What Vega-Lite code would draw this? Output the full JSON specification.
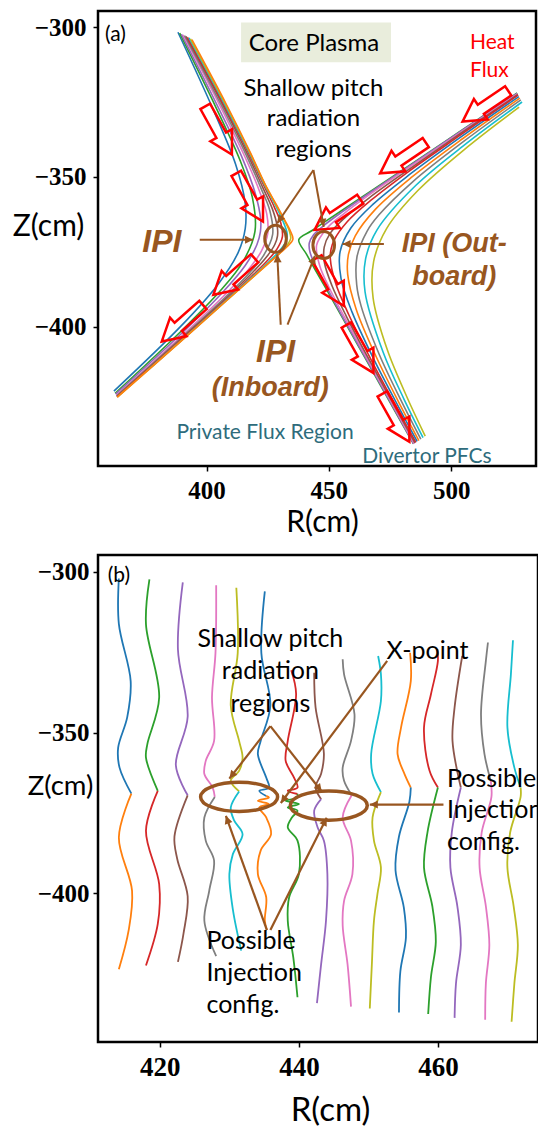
{
  "$schema": "https://vega.github.io/schema/vega-lite/v6.json",
  "background": "white",
  "padding": {"left": 10, "top": 9, "right": 0, "bottom": 0},
  "spacing": 89,
  "bounds": "flush",
  "config": {
    "view": {"stroke": "black", "strokeWidth": 2.5},
    "axis": {
      "domain": false, "grid": false, "ticks": true, "tickColor": "black", "tickWidth": 1.5, "tickSize": 5,
      "labelFont": "Liberation Serif", "labelFontWeight": "bold", "labelColor": "black",
      "labelFlush": false, "labelOverlap": false,
      "titleFont": "Lato", "titleFontWeight": "normal", "titleColor": "black"
    }
  },
  "datasets": {
    "a_box": [{"R": 414.1, "R2": 475.4, "Z": -298.4, "Z2": -311.7}],
    "a_lines": [
      {"id": "L1", "c": "C0", "R": 388.3, "Z": -301.7}, {"id": "L1", "c": "C0", "R": 402.9, "Z": -327.9}, {"id": "L1", "c": "C0", "R": 411.9, "Z": -345.9}, {"id": "L1", "c": "C0", "R": 415.8, "Z": -358.9}, {"id": "L1", "c": "C0", "R": 415.8, "Z": -367.3}, {"id": "L1", "c": "C0", "R": 412.9, "Z": -375.3}, {"id": "L1", "c": "C0", "R": 404.5, "Z": -386.1}, {"id": "L1", "c": "C0", "R": 389.6, "Z": -399.8}, {"id": "L1", "c": "C0", "R": 362.1, "Z": -421.6},
      {"id": "L2", "c": "C2", "R": 389.0, "Z": -302.0}, {"id": "L2", "c": "C2", "R": 404.0, "Z": -327.1}, {"id": "L2", "c": "C2", "R": 413.7, "Z": -344.5}, {"id": "L2", "c": "C2", "R": 418.7, "Z": -356.8}, {"id": "L2", "c": "C2", "R": 419.8, "Z": -368.1}, {"id": "L2", "c": "C2", "R": 414.9, "Z": -378.3}, {"id": "L2", "c": "C2", "R": 405.7, "Z": -388.0}, {"id": "L2", "c": "C2", "R": 390.4, "Z": -400.9}, {"id": "L2", "c": "C2", "R": 362.6, "Z": -422.3},
      {"id": "L3", "c": "C4", "R": 389.7, "Z": -302.3}, {"id": "L3", "c": "C4", "R": 404.7, "Z": -326.7}, {"id": "L3", "c": "C4", "R": 414.7, "Z": -343.9}, {"id": "L3", "c": "C4", "R": 420.0, "Z": -355.8}, {"id": "L3", "c": "C4", "R": 422.1, "Z": -364.1}, {"id": "L3", "c": "C4", "R": 422.0, "Z": -368.4}, {"id": "L3", "c": "C4", "R": 420.6, "Z": -372.6}, {"id": "L3", "c": "C4", "R": 415.8, "Z": -379.6}, {"id": "L3", "c": "C4", "R": 406.3, "Z": -388.8}, {"id": "L3", "c": "C4", "R": 390.8, "Z": -401.5}, {"id": "L3", "c": "C4", "R": 362.8, "Z": -422.6},
      {"id": "L4", "c": "C6", "R": 390.4, "Z": -302.6}, {"id": "L4", "c": "C6", "R": 405.5, "Z": -326.3}, {"id": "L4", "c": "C6", "R": 415.6, "Z": -343.2}, {"id": "L4", "c": "C6", "R": 421.6, "Z": -354.7}, {"id": "L4", "c": "C6", "R": 424.6, "Z": -362.4}, {"id": "L4", "c": "C6", "R": 425.0, "Z": -369.0}, {"id": "L4", "c": "C6", "R": 422.3, "Z": -375.0}, {"id": "L4", "c": "C6", "R": 416.9, "Z": -381.2}, {"id": "L4", "c": "C6", "R": 407.0, "Z": -389.8}, {"id": "L4", "c": "C6", "R": 391.2, "Z": -402.1}, {"id": "L4", "c": "C6", "R": 363.1, "Z": -423.0},
      {"id": "L5", "c": "C7", "R": 391.0, "Z": -302.8}, {"id": "L5", "c": "C7", "R": 406.0, "Z": -326.0}, {"id": "L5", "c": "C7", "R": 416.3, "Z": -342.9}, {"id": "L5", "c": "C7", "R": 422.4, "Z": -354.1}, {"id": "L5", "c": "C7", "R": 425.9, "Z": -361.4}, {"id": "L5", "c": "C7", "R": 427.0, "Z": -369.3}, {"id": "L5", "c": "C7", "R": 423.2, "Z": -376.4}, {"id": "L5", "c": "C7", "R": 417.5, "Z": -382.1}, {"id": "L5", "c": "C7", "R": 407.4, "Z": -390.4}, {"id": "L5", "c": "C7", "R": 391.4, "Z": -402.5}, {"id": "L5", "c": "C7", "R": 363.2, "Z": -423.2},
      {"id": "L6", "c": "C5", "R": 391.6, "Z": -303.1}, {"id": "L6", "c": "C5", "R": 406.5, "Z": -325.8}, {"id": "L6", "c": "C5", "R": 416.8, "Z": -342.6}, {"id": "L6", "c": "C5", "R": 423.0, "Z": -353.6}, {"id": "L6", "c": "C5", "R": 426.9, "Z": -360.7}, {"id": "L6", "c": "C5", "R": 428.9, "Z": -366.6}, {"id": "L6", "c": "C5", "R": 429.0, "Z": -369.7}, {"id": "L6", "c": "C5", "R": 427.9, "Z": -372.6}, {"id": "L6", "c": "C5", "R": 423.9, "Z": -377.4}, {"id": "L6", "c": "C5", "R": 417.9, "Z": -382.7}, {"id": "L6", "c": "C5", "R": 407.6, "Z": -390.8}, {"id": "L6", "c": "C5", "R": 391.6, "Z": -402.7}, {"id": "L6", "c": "C5", "R": 363.3, "Z": -423.4},
      {"id": "L7", "c": "C3", "R": 392.2, "Z": -303.4}, {"id": "L7", "c": "C3", "R": 406.9, "Z": -325.7}, {"id": "L7", "c": "C3", "R": 417.3, "Z": -342.3}, {"id": "L7", "c": "C3", "R": 423.6, "Z": -353.2}, {"id": "L7", "c": "C3", "R": 427.7, "Z": -360.1}, {"id": "L7", "c": "C3", "R": 430.4, "Z": -365.6}, {"id": "L7", "c": "C3", "R": 431.0, "Z": -370.0}, {"id": "L7", "c": "C3", "R": 428.9, "Z": -374.0}, {"id": "L7", "c": "C3", "R": 424.5, "Z": -378.3}, {"id": "L7", "c": "C3", "R": 418.3, "Z": -383.3}, {"id": "L7", "c": "C3", "R": 407.9, "Z": -391.1}, {"id": "L7", "c": "C3", "R": 391.7, "Z": -402.9}, {"id": "L7", "c": "C3", "R": 363.4, "Z": -423.5},
      {"id": "L8", "c": "C9", "R": 392.8, "Z": -303.6}, {"id": "L8", "c": "C9", "R": 407.3, "Z": -325.6}, {"id": "L8", "c": "C9", "R": 417.6, "Z": -342.2}, {"id": "L8", "c": "C9", "R": 423.9, "Z": -353.0}, {"id": "L8", "c": "C9", "R": 428.3, "Z": -359.7}, {"id": "L8", "c": "C9", "R": 431.3, "Z": -364.9}, {"id": "L8", "c": "C9", "R": 432.9, "Z": -368.7}, {"id": "L8", "c": "C9", "R": 432.9, "Z": -370.4}, {"id": "L8", "c": "C9", "R": 432.3, "Z": -371.9}, {"id": "L8", "c": "C9", "R": 429.5, "Z": -375.0}, {"id": "L8", "c": "C9", "R": 424.9, "Z": -378.8}, {"id": "L8", "c": "C9", "R": 418.5, "Z": -383.6}, {"id": "L8", "c": "C9", "R": 408.0, "Z": -391.3}, {"id": "L8", "c": "C9", "R": 391.8, "Z": -403.1}, {"id": "L8", "c": "C9", "R": 375.6, "Z": -414.8},
      {"id": "L9", "c": "C8", "R": 393.4, "Z": -303.9}, {"id": "L9", "c": "C8", "R": 407.6, "Z": -325.5}, {"id": "L9", "c": "C8", "R": 417.8, "Z": -342.1}, {"id": "L9", "c": "C8", "R": 424.1, "Z": -352.9}, {"id": "L9", "c": "C8", "R": 428.5, "Z": -359.5}, {"id": "L9", "c": "C8", "R": 431.8, "Z": -364.5}, {"id": "L9", "c": "C8", "R": 433.8, "Z": -368.0}, {"id": "L9", "c": "C8", "R": 434.4, "Z": -370.6}, {"id": "L9", "c": "C8", "R": 432.9, "Z": -372.9}, {"id": "L9", "c": "C8", "R": 429.9, "Z": -375.5}, {"id": "L9", "c": "C8", "R": 425.1, "Z": -379.0}, {"id": "L9", "c": "C8", "R": 418.6, "Z": -383.8}, {"id": "L9", "c": "C8", "R": 408.1, "Z": -391.4}, {"id": "L9", "c": "C8", "R": 391.9, "Z": -403.1}, {"id": "L9", "c": "C8", "R": 363.5, "Z": -423.6},
      {"id": "L10", "c": "C1", "R": 394.0, "Z": -304.2}, {"id": "L10", "c": "C1", "R": 407.9, "Z": -325.5}, {"id": "L10", "c": "C1", "R": 418.0, "Z": -342.1}, {"id": "L10", "c": "C1", "R": 424.1, "Z": -352.8}, {"id": "L10", "c": "C1", "R": 428.6, "Z": -359.4}, {"id": "L10", "c": "C1", "R": 431.9, "Z": -364.4}, {"id": "L10", "c": "C1", "R": 434.1, "Z": -367.8}, {"id": "L10", "c": "C1", "R": 435.3, "Z": -370.8}, {"id": "L10", "c": "C1", "R": 433.1, "Z": -373.2}, {"id": "L10", "c": "C1", "R": 429.9, "Z": -375.6}, {"id": "L10", "c": "C1", "R": 425.1, "Z": -379.1}, {"id": "L10", "c": "C1", "R": 418.6, "Z": -383.8}, {"id": "L10", "c": "C1", "R": 408.1, "Z": -391.4}, {"id": "L10", "c": "C1", "R": 391.9, "Z": -403.2}, {"id": "L10", "c": "C1", "R": 363.5, "Z": -423.6},
      {"id": "R1", "c": "C2", "R": 527.0, "Z": -322.0}, {"id": "R1", "c": "C2", "R": 503.3, "Z": -335.0}, {"id": "R1", "c": "C2", "R": 481.4, "Z": -347.0}, {"id": "R1", "c": "C2", "R": 465.6, "Z": -355.6}, {"id": "R1", "c": "C2", "R": 455.0, "Z": -361.4}, {"id": "R1", "c": "C2", "R": 448.0, "Z": -365.2}, {"id": "R1", "c": "C2", "R": 442.8, "Z": -368.1}, {"id": "R1", "c": "C2", "R": 437.7, "Z": -371.0}, {"id": "R1", "c": "C2", "R": 440.9, "Z": -375.9}, {"id": "R1", "c": "C2", "R": 444.3, "Z": -380.9}, {"id": "R1", "c": "C2", "R": 448.9, "Z": -387.4}, {"id": "R1", "c": "C2", "R": 455.7, "Z": -397.3}, {"id": "R1", "c": "C2", "R": 465.9, "Z": -412.1}, {"id": "R1", "c": "C2", "R": 476.1, "Z": -426.9}, {"id": "R1", "c": "C2", "R": 484.6, "Z": -439.2},
      {"id": "R2", "c": "C4", "R": 527.0, "Z": -322.1}, {"id": "R2", "c": "C4", "R": 503.4, "Z": -335.1}, {"id": "R2", "c": "C4", "R": 481.5, "Z": -347.2}, {"id": "R2", "c": "C4", "R": 465.7, "Z": -355.9}, {"id": "R2", "c": "C4", "R": 455.3, "Z": -361.8}, {"id": "R2", "c": "C4", "R": 448.5, "Z": -365.9}, {"id": "R2", "c": "C4", "R": 443.7, "Z": -369.4}, {"id": "R2", "c": "C4", "R": 442.0, "Z": -372.1}, {"id": "R2", "c": "C4", "R": 442.3, "Z": -375.2}, {"id": "R2", "c": "C4", "R": 445.0, "Z": -380.5}, {"id": "R2", "c": "C4", "R": 449.3, "Z": -387.2}, {"id": "R2", "c": "C4", "R": 455.9, "Z": -397.2}, {"id": "R2", "c": "C4", "R": 466.1, "Z": -412.0}, {"id": "R2", "c": "C4", "R": 476.2, "Z": -426.8}, {"id": "R2", "c": "C4", "R": 484.7, "Z": -439.2},
      {"id": "R3", "c": "C6", "R": 527.1, "Z": -322.3}, {"id": "R3", "c": "C6", "R": 503.5, "Z": -335.3}, {"id": "R3", "c": "C6", "R": 481.7, "Z": -347.4}, {"id": "R3", "c": "C6", "R": 466.0, "Z": -356.3}, {"id": "R3", "c": "C6", "R": 455.8, "Z": -362.5}, {"id": "R3", "c": "C6", "R": 449.3, "Z": -367.1}, {"id": "R3", "c": "C6", "R": 445.0, "Z": -372.8}, {"id": "R3", "c": "C6", "R": 446.3, "Z": -379.8}, {"id": "R3", "c": "C6", "R": 450.0, "Z": -386.8}, {"id": "R3", "c": "C6", "R": 456.4, "Z": -396.9}, {"id": "R3", "c": "C6", "R": 466.4, "Z": -411.8}, {"id": "R3", "c": "C6", "R": 476.5, "Z": -426.7}, {"id": "R3", "c": "C6", "R": 484.9, "Z": -439.1},
      {"id": "R4", "c": "C5", "R": 527.3, "Z": -322.5}, {"id": "R4", "c": "C5", "R": 503.7, "Z": -335.6}, {"id": "R4", "c": "C5", "R": 482.0, "Z": -347.9}, {"id": "R4", "c": "C5", "R": 466.5, "Z": -357.0}, {"id": "R4", "c": "C5", "R": 456.6, "Z": -363.6}, {"id": "R4", "c": "C5", "R": 450.5, "Z": -368.9}, {"id": "R4", "c": "C5", "R": 448.1, "Z": -373.5}, {"id": "R4", "c": "C5", "R": 448.2, "Z": -378.7}, {"id": "R4", "c": "C5", "R": 451.2, "Z": -386.2}, {"id": "R4", "c": "C5", "R": 457.1, "Z": -396.5}, {"id": "R4", "c": "C5", "R": 466.8, "Z": -411.6}, {"id": "R4", "c": "C5", "R": 476.8, "Z": -426.5}, {"id": "R4", "c": "C5", "R": 485.2, "Z": -438.9},
      {"id": "R5", "c": "C3", "R": 527.4, "Z": -322.7}, {"id": "R5", "c": "C3", "R": 503.9, "Z": -336.0}, {"id": "R5", "c": "C3", "R": 482.3, "Z": -348.4}, {"id": "R5", "c": "C3", "R": 467.1, "Z": -357.9}, {"id": "R5", "c": "C3", "R": 457.5, "Z": -365.0}, {"id": "R5", "c": "C3", "R": 452.1, "Z": -371.2}, {"id": "R5", "c": "C3", "R": 450.9, "Z": -374.2}, {"id": "R5", "c": "C3", "R": 450.6, "Z": -377.4}, {"id": "R5", "c": "C3", "R": 452.7, "Z": -385.4}, {"id": "R5", "c": "C3", "R": 458.1, "Z": -396.0}, {"id": "R5", "c": "C3", "R": 467.4, "Z": -411.3}, {"id": "R5", "c": "C3", "R": 477.2, "Z": -426.3}, {"id": "R5", "c": "C3", "R": 485.6, "Z": -438.7},
      {"id": "R6", "c": "C0", "R": 527.7, "Z": -323.2}, {"id": "R6", "c": "C0", "R": 504.3, "Z": -336.5}, {"id": "R6", "c": "C0", "R": 482.9, "Z": -349.3}, {"id": "R6", "c": "C0", "R": 468.0, "Z": -359.2}, {"id": "R6", "c": "C0", "R": 459.0, "Z": -367.1}, {"id": "R6", "c": "C0", "R": 454.6, "Z": -375.0}, {"id": "R6", "c": "C0", "R": 455.0, "Z": -384.1}, {"id": "R6", "c": "C0", "R": 459.5, "Z": -395.2}, {"id": "R6", "c": "C0", "R": 468.3, "Z": -410.8}, {"id": "R6", "c": "C0", "R": 477.9, "Z": -425.9}, {"id": "R6", "c": "C0", "R": 486.1, "Z": -438.4},
      {"id": "R7", "c": "C1", "R": 528.1, "Z": -323.7}, {"id": "R7", "c": "C1", "R": 504.8, "Z": -337.2}, {"id": "R7", "c": "C1", "R": 483.6, "Z": -350.3}, {"id": "R7", "c": "C1", "R": 469.1, "Z": -360.8}, {"id": "R7", "c": "C1", "R": 460.8, "Z": -369.7}, {"id": "R7", "c": "C1", "R": 458.0, "Z": -375.9}, {"id": "R7", "c": "C1", "R": 457.7, "Z": -382.6}, {"id": "R7", "c": "C1", "R": 461.2, "Z": -394.3}, {"id": "R7", "c": "C1", "R": 469.4, "Z": -410.2}, {"id": "R7", "c": "C1", "R": 478.7, "Z": -425.5}, {"id": "R7", "c": "C1", "R": 486.8, "Z": -438.1},
      {"id": "R8", "c": "C7", "R": 528.5, "Z": -324.3}, {"id": "R8", "c": "C7", "R": 505.4, "Z": -338.0}, {"id": "R8", "c": "C7", "R": 484.5, "Z": -351.5}, {"id": "R8", "c": "C7", "R": 470.5, "Z": -362.7}, {"id": "R8", "c": "C7", "R": 465.6, "Z": -368.2}, {"id": "R8", "c": "C7", "R": 461.5, "Z": -376.7}, {"id": "R8", "c": "C7", "R": 461.4, "Z": -386.2}, {"id": "R8", "c": "C7", "R": 463.2, "Z": -393.2}, {"id": "R8", "c": "C7", "R": 470.7, "Z": -409.5}, {"id": "R8", "c": "C7", "R": 479.7, "Z": -425.0}, {"id": "R8", "c": "C7", "R": 487.6, "Z": -437.6},
      {"id": "R9", "c": "C9", "R": 529.0, "Z": -325.0}, {"id": "R9", "c": "C9", "R": 506.0, "Z": -339.0}, {"id": "R9", "c": "C9", "R": 485.5, "Z": -352.9}, {"id": "R9", "c": "C9", "R": 469.7, "Z": -367.7}, {"id": "R9", "c": "C9", "R": 465.0, "Z": -377.5}, {"id": "R9", "c": "C9", "R": 464.8, "Z": -388.4}, {"id": "R9", "c": "C9", "R": 472.2, "Z": -408.6}, {"id": "R9", "c": "C9", "R": 480.8, "Z": -424.4}, {"id": "R9", "c": "C9", "R": 488.5, "Z": -437.1},
      {"id": "R10", "c": "C8", "R": 527.8, "Z": -326.7}, {"id": "R10", "c": "C8", "R": 506.7, "Z": -340.0}, {"id": "R10", "c": "C8", "R": 486.5, "Z": -354.5}, {"id": "R10", "c": "C8", "R": 473.6, "Z": -367.3}, {"id": "R10", "c": "C8", "R": 468.3, "Z": -378.3}, {"id": "R10", "c": "C8", "R": 468.1, "Z": -390.5}, {"id": "R10", "c": "C8", "R": 473.9, "Z": -407.8}, {"id": "R10", "c": "C8", "R": 482.0, "Z": -423.7}, {"id": "R10", "c": "C8", "R": 489.4, "Z": -436.6}
    ],
    "a_flux": [
      {"R": 404.9, "Z": -334.5, "dir": 61}, {"R": 417.6, "Z": -356.9, "dir": 61},
      {"R": 411.2, "Z": -383.3, "dir": 138.5}, {"R": 390.1, "Z": -398.9, "dir": 138.5},
      {"R": 514.0, "Z": -326.4, "dir": 146}, {"R": 480.3, "Z": -343.7, "dir": 146}, {"R": 453.5, "Z": -362.6, "dir": 146},
      {"R": 450.6, "Z": -385.1, "dir": 60.6}, {"R": 462.7, "Z": -407.5, "dir": 60.6}, {"R": 477.4, "Z": -430.5, "dir": 60.6}
    ],
    "a_rings": [{"R": 428.2, "Z": -370.7}, {"R": 447.9, "Z": -372.8}],
    "a_pointers": [
      {"R": 428.9, "Z": -365.5, "R2": 443.7, "Z2": -347.7, "deg": 124.1},
      {"R": 447.9, "Z": -366.7, "R2": 443.7, "Z2": -347.7, "deg": 79.7},
      {"R": 419.0, "Z": -371.0, "R2": 397.2, "Z2": -371.0, "deg": 0},
      {"R": 455.6, "Z": -372.4, "R2": 472.5, "Z2": -372.4, "deg": 180},
      {"R": 428.9, "Z": -375.9, "R2": 430.3, "Z2": -399.4, "deg": 267.2},
      {"R": 444.3, "Z": -376.4, "R2": 433.1, "Z2": -399.4, "deg": 291.8}
    ],
    "a_notes": [
      {"t": "Core Plasma", "kind": "plain", "R": 443.9, "Z": -305.7},
      {"t": "Shallow pitch", "kind": "plain", "R": 443.7, "Z": -320.7},
      {"t": "radiation", "kind": "plain", "R": 443.7, "Z": -330.7},
      {"t": "regions", "kind": "plain", "R": 443.7, "Z": -341.1},
      {"t": "(a)", "kind": "tag", "R": 358.5, "Z": -302.7},
      {"t": "Heat", "kind": "red", "R": 507.7, "Z": -305.3},
      {"t": "Flux", "kind": "red", "R": 507.7, "Z": -314.8},
      {"t": "IPI", "kind": "ipi", "R": 381.7, "Z": -371.8},
      {"t": "IPI", "kind": "ipi", "R": 428.2, "Z": -408.6},
      {"t": "IPI (Out-", "kind": "ipi2", "R": 501.3, "Z": -372.4},
      {"t": "board)", "kind": "ipi2", "R": 501.3, "Z": -383.3},
      {"t": "(Inboard)", "kind": "ipi2", "R": 426.0, "Z": -420.7},
      {"t": "Private Flux Region", "kind": "teal", "R": 423.9, "Z": -435.6},
      {"t": "Divertor PFCs", "kind": "teal", "R": 490.1, "Z": -443.7}
    ],
    "b_lines": [
      {"id": "b1u", "c": "C0", "R": 414.1, "Z": -302.1}, {"id": "b1u", "c": "C0", "R": 414.1, "Z": -316.2}, {"id": "b1u", "c": "C0", "R": 415.8, "Z": -334.0}, {"id": "b1u", "c": "C0", "R": 415.3, "Z": -345.3}, {"id": "b1u", "c": "C0", "R": 414.0, "Z": -354.7}, {"id": "b1u", "c": "C0", "R": 414.2, "Z": -360.9}, {"id": "b1u", "c": "C0", "R": 415.9, "Z": -369.0},
      {"id": "b1d", "c": "C1", "R": 415.9, "Z": -369.0}, {"id": "b1d", "c": "C1", "R": 414.1, "Z": -382.6}, {"id": "b1d", "c": "C1", "R": 416.0, "Z": -399.2}, {"id": "b1d", "c": "C1", "R": 415.5, "Z": -411.6}, {"id": "b1d", "c": "C1", "R": 414.1, "Z": -423.6},
      {"id": "b2u", "c": "C2", "R": 418.5, "Z": -302.4}, {"id": "b2u", "c": "C2", "R": 418.0, "Z": -316.3}, {"id": "b2u", "c": "C2", "R": 419.9, "Z": -339.1}, {"id": "b2u", "c": "C2", "R": 418.2, "Z": -353.6}, {"id": "b2u", "c": "C2", "R": 418.0, "Z": -357.8}, {"id": "b2u", "c": "C2", "R": 419.7, "Z": -368.1},
      {"id": "b2d", "c": "C3", "R": 419.7, "Z": -368.1}, {"id": "b2d", "c": "C3", "R": 418.0, "Z": -380.5}, {"id": "b2d", "c": "C3", "R": 419.9, "Z": -397.1}, {"id": "b2d", "c": "C3", "R": 419.7, "Z": -409.5}, {"id": "b2d", "c": "C3", "R": 418.0, "Z": -422.4},
      {"id": "b3u", "c": "C4", "R": 423.3, "Z": -303.3}, {"id": "b3u", "c": "C4", "R": 422.6, "Z": -324.2}, {"id": "b3u", "c": "C4", "R": 424.0, "Z": -345.1}, {"id": "b3u", "c": "C4", "R": 422.3, "Z": -360.2}, {"id": "b3u", "c": "C4", "R": 424.0, "Z": -369.5},
      {"id": "b3d", "c": "C5", "R": 424.0, "Z": -369.5}, {"id": "b3d", "c": "C5", "R": 422.1, "Z": -382.3}, {"id": "b3d", "c": "C5", "R": 422.5, "Z": -389.3}, {"id": "b3d", "c": "C5", "R": 424.0, "Z": -400.9}, {"id": "b3d", "c": "C5", "R": 423.4, "Z": -412.5}, {"id": "b3d", "c": "C5", "R": 422.6, "Z": -421.3},
      {"id": "b4u", "c": "C6", "R": 428.1, "Z": -304.2}, {"id": "b4u", "c": "C6", "R": 428.0, "Z": -325.3}, {"id": "b4u", "c": "C6", "R": 427.5, "Z": -339.0}, {"id": "b4u", "c": "C6", "R": 427.8, "Z": -352.6}, {"id": "b4u", "c": "C6", "R": 426.6, "Z": -358.8}, {"id": "b4u", "c": "C6", "R": 426.4, "Z": -362.9}, {"id": "b4u", "c": "C6", "R": 427.6, "Z": -367.1}, {"id": "b4u", "c": "C6", "R": 427.9, "Z": -370.0},
      {"id": "b4d", "c": "C7", "R": 427.9, "Z": -370.0}, {"id": "b4d", "c": "C7", "R": 426.4, "Z": -376.4}, {"id": "b4d", "c": "C7", "R": 426.6, "Z": -383.6}, {"id": "b4d", "c": "C7", "R": 427.8, "Z": -389.8}, {"id": "b4d", "c": "C7", "R": 427.1, "Z": -399.2}, {"id": "b4d", "c": "C7", "R": 426.4, "Z": -408.5}, {"id": "b4d", "c": "C7", "R": 428.1, "Z": -419.5},
      {"id": "b5u", "c": "C8", "R": 431.0, "Z": -305.0}, {"id": "b5u", "c": "C8", "R": 431.2, "Z": -325.3}, {"id": "b5u", "c": "C8", "R": 430.2, "Z": -341.6}, {"id": "b5u", "c": "C8", "R": 431.4, "Z": -352.6}, {"id": "b5u", "c": "C8", "R": 431.9, "Z": -357.8}, {"id": "b5u", "c": "C8", "R": 431.4, "Z": -361.9}, {"id": "b5u", "c": "C8", "R": 430.2, "Z": -365.0}, {"id": "b5u", "c": "C8", "R": 431.4, "Z": -368.3},
      {"id": "b5d", "c": "C9", "R": 431.4, "Z": -368.3}, {"id": "b5d", "c": "C9", "R": 430.2, "Z": -373.3}, {"id": "b5d", "c": "C9", "R": 430.7, "Z": -377.4}, {"id": "b5d", "c": "C9", "R": 431.9, "Z": -381.6}, {"id": "b5d", "c": "C9", "R": 430.5, "Z": -387.8}, {"id": "b5d", "c": "C9", "R": 430.0, "Z": -394.0}, {"id": "b5d", "c": "C9", "R": 430.5, "Z": -405.0}, {"id": "b5d", "c": "C9", "R": 431.7, "Z": -417.8},
      {"id": "b6u", "c": "C0", "R": 435.1, "Z": -306.1}, {"id": "b6u", "c": "C0", "R": 434.6, "Z": -325.3}, {"id": "b6u", "c": "C0", "R": 435.9, "Z": -341.6}, {"id": "b6u", "c": "C0", "R": 434.5, "Z": -352.6}, {"id": "b6u", "c": "C0", "R": 434.1, "Z": -356.7}, {"id": "b6u", "c": "C0", "R": 435.3, "Z": -364.0}, {"id": "b6u", "c": "C0", "R": 435.7, "Z": -367.1}, {"id": "b6u", "c": "C0", "R": 434.3, "Z": -368.1}, {"id": "b6u", "c": "C0", "R": 435.3, "Z": -369.7},
      {"id": "b6d", "c": "C1", "R": 435.3, "Z": -369.7}, {"id": "b6d", "c": "C1", "R": 435.7, "Z": -370.2}, {"id": "b6d", "c": "C1", "R": 434.1, "Z": -371.2}, {"id": "b6d", "c": "C1", "R": 435.7, "Z": -372.2}, {"id": "b6d", "c": "C1", "R": 434.3, "Z": -373.3}, {"id": "b6d", "c": "C1", "R": 435.3, "Z": -376.4}, {"id": "b6d", "c": "C1", "R": 436.0, "Z": -381.6}, {"id": "b6d", "c": "C1", "R": 434.5, "Z": -386.7}, {"id": "b6d", "c": "C1", "R": 434.1, "Z": -394.0}, {"id": "b6d", "c": "C1", "R": 435.3, "Z": -401.2}, {"id": "b6d", "c": "C1", "R": 435.1, "Z": -408.5}, {"id": "b6d", "c": "C1", "R": 435.4, "Z": -411.4},
      {"id": "b7u", "c": "C3", "R": 438.9, "Z": -330.6}, {"id": "b7u", "c": "C3", "R": 439.6, "Z": -338.0}, {"id": "b7u", "c": "C3", "R": 438.4, "Z": -352.6}, {"id": "b7u", "c": "C3", "R": 438.1, "Z": -358.8}, {"id": "b7u", "c": "C3", "R": 439.3, "Z": -364.0}, {"id": "b7u", "c": "C3", "R": 439.8, "Z": -367.1}, {"id": "b7u", "c": "C3", "R": 438.4, "Z": -368.1}, {"id": "b7u", "c": "C3", "R": 439.8, "Z": -369.1},
      {"id": "b7d", "c": "C2", "R": 439.8, "Z": -369.1}, {"id": "b7d", "c": "C2", "R": 439.8, "Z": -370.2}, {"id": "b7d", "c": "C2", "R": 438.1, "Z": -371.2}, {"id": "b7d", "c": "C2", "R": 440.0, "Z": -372.2}, {"id": "b7d", "c": "C2", "R": 438.4, "Z": -373.3}, {"id": "b7d", "c": "C2", "R": 439.8, "Z": -374.3}, {"id": "b7d", "c": "C2", "R": 439.0, "Z": -376.4}, {"id": "b7d", "c": "C2", "R": 438.4, "Z": -379.5}, {"id": "b7d", "c": "C2", "R": 439.8, "Z": -383.6}, {"id": "b7d", "c": "C2", "R": 440.0, "Z": -394.0}, {"id": "b7d", "c": "C2", "R": 438.6, "Z": -401.2}, {"id": "b7d", "c": "C2", "R": 438.4, "Z": -408.5}, {"id": "b7d", "c": "C2", "R": 439.2, "Z": -420.0}, {"id": "b7d", "c": "C2", "R": 439.8, "Z": -432.3},
      {"id": "b8u", "c": "C5", "R": 442.2, "Z": -331.4}, {"id": "b8u", "c": "C5", "R": 442.4, "Z": -342.2}, {"id": "b8u", "c": "C5", "R": 443.6, "Z": -356.6}, {"id": "b8u", "c": "C5", "R": 443.2, "Z": -362.8}, {"id": "b8u", "c": "C5", "R": 442.4, "Z": -367.0}, {"id": "b8u", "c": "C5", "R": 443.2, "Z": -370.7},
      {"id": "b8d", "c": "C4", "R": 443.2, "Z": -370.7}, {"id": "b8d", "c": "C4", "R": 442.2, "Z": -374.3}, {"id": "b8d", "c": "C4", "R": 442.7, "Z": -379.5}, {"id": "b8d", "c": "C4", "R": 443.6, "Z": -383.6}, {"id": "b8d", "c": "C4", "R": 444.1, "Z": -394.0}, {"id": "b8d", "c": "C4", "R": 443.9, "Z": -408.5}, {"id": "b8d", "c": "C4", "R": 443.2, "Z": -422.0}, {"id": "b8d", "c": "C4", "R": 442.6, "Z": -434.1},
      {"id": "b9u", "c": "C7", "R": 446.3, "Z": -327.2}, {"id": "b9u", "c": "C7", "R": 446.5, "Z": -331.9}, {"id": "b9u", "c": "C7", "R": 448.0, "Z": -344.3}, {"id": "b9u", "c": "C7", "R": 447.5, "Z": -352.6}, {"id": "b9u", "c": "C7", "R": 446.3, "Z": -360.9}, {"id": "b9u", "c": "C7", "R": 446.5, "Z": -365.0}, {"id": "b9u", "c": "C7", "R": 447.6, "Z": -369.5},
      {"id": "b9d", "c": "C6", "R": 447.6, "Z": -369.5}, {"id": "b9d", "c": "C6", "R": 446.3, "Z": -376.4}, {"id": "b9d", "c": "C6", "R": 447.5, "Z": -383.6}, {"id": "b9d", "c": "C6", "R": 447.7, "Z": -394.0}, {"id": "b9d", "c": "C6", "R": 446.5, "Z": -402.3}, {"id": "b9d", "c": "C6", "R": 446.3, "Z": -410.0}, {"id": "b9d", "c": "C6", "R": 447.0, "Z": -422.0}, {"id": "b9d", "c": "C6", "R": 447.5, "Z": -435.2},
      {"id": "b10u", "c": "C9", "R": 451.4, "Z": -326.2}, {"id": "b10u", "c": "C9", "R": 451.8, "Z": -331.8}, {"id": "b10u", "c": "C9", "R": 451.8, "Z": -340.2}, {"id": "b10u", "c": "C9", "R": 450.4, "Z": -356.6}, {"id": "b10u", "c": "C9", "R": 450.6, "Z": -362.8}, {"id": "b10u", "c": "C9", "R": 451.8, "Z": -368.5},
      {"id": "b10d", "c": "C8", "R": 451.8, "Z": -368.5}, {"id": "b10d", "c": "C8", "R": 450.6, "Z": -376.4}, {"id": "b10d", "c": "C8", "R": 450.8, "Z": -383.6}, {"id": "b10d", "c": "C8", "R": 451.8, "Z": -391.9}, {"id": "b10d", "c": "C8", "R": 451.3, "Z": -400.2}, {"id": "b10d", "c": "C8", "R": 450.8, "Z": -408.5}, {"id": "b10d", "c": "C8", "R": 450.5, "Z": -422.0}, {"id": "b10d", "c": "C8", "R": 450.2, "Z": -435.8},
      {"id": "b11u", "c": "C1", "R": 456.0, "Z": -325.2}, {"id": "b11u", "c": "C1", "R": 456.1, "Z": -334.0}, {"id": "b11u", "c": "C1", "R": 454.7, "Z": -348.4}, {"id": "b11u", "c": "C1", "R": 454.2, "Z": -356.7}, {"id": "b11u", "c": "C1", "R": 455.2, "Z": -362.9}, {"id": "b11u", "c": "C1", "R": 456.1, "Z": -367.1},
      {"id": "b11d", "c": "C0", "R": 456.1, "Z": -367.1}, {"id": "b11d", "c": "C0", "R": 455.9, "Z": -371.5}, {"id": "b11d", "c": "C0", "R": 454.4, "Z": -382.3}, {"id": "b11d", "c": "C0", "R": 453.9, "Z": -392.8}, {"id": "b11d", "c": "C0", "R": 455.1, "Z": -404.4}, {"id": "b11d", "c": "C0", "R": 455.4, "Z": -413.7}, {"id": "b11d", "c": "C0", "R": 454.6, "Z": -424.2}, {"id": "b11d", "c": "C0", "R": 454.4, "Z": -437.0},
      {"id": "b12u", "c": "C3", "R": 459.9, "Z": -324.1}, {"id": "b12u", "c": "C3", "R": 460.0, "Z": -327.7}, {"id": "b12u", "c": "C3", "R": 459.0, "Z": -338.1}, {"id": "b12u", "c": "C3", "R": 458.0, "Z": -348.4}, {"id": "b12u", "c": "C3", "R": 458.8, "Z": -361.9}, {"id": "b12u", "c": "C3", "R": 460.0, "Z": -367.1},
      {"id": "b12d", "c": "C2", "R": 460.0, "Z": -367.1}, {"id": "b12d", "c": "C2", "R": 458.5, "Z": -381.0}, {"id": "b12d", "c": "C2", "R": 458.0, "Z": -392.0}, {"id": "b12d", "c": "C2", "R": 459.2, "Z": -404.0}, {"id": "b12d", "c": "C2", "R": 459.7, "Z": -415.0}, {"id": "b12d", "c": "C2", "R": 459.0, "Z": -426.0}, {"id": "b12d", "c": "C2", "R": 458.6, "Z": -437.5},
      {"id": "b13u", "c": "C5", "R": 463.5, "Z": -326.2}, {"id": "b13u", "c": "C5", "R": 462.4, "Z": -342.2}, {"id": "b13u", "c": "C5", "R": 462.1, "Z": -352.6}, {"id": "b13u", "c": "C5", "R": 463.3, "Z": -367.1},
      {"id": "b13d", "c": "C4", "R": 463.3, "Z": -367.1}, {"id": "b13d", "c": "C4", "R": 462.0, "Z": -381.0}, {"id": "b13d", "c": "C4", "R": 461.8, "Z": -392.0}, {"id": "b13d", "c": "C4", "R": 462.8, "Z": -404.0}, {"id": "b13d", "c": "C4", "R": 463.3, "Z": -416.0}, {"id": "b13d", "c": "C4", "R": 462.6, "Z": -428.0}, {"id": "b13d", "c": "C4", "R": 462.4, "Z": -438.7},
      {"id": "b14u", "c": "C7", "R": 467.2, "Z": -322.0}, {"id": "b14u", "c": "C7", "R": 466.9, "Z": -327.7}, {"id": "b14u", "c": "C7", "R": 466.2, "Z": -344.3}, {"id": "b14u", "c": "C7", "R": 466.7, "Z": -356.7}, {"id": "b14u", "c": "C7", "R": 467.6, "Z": -365.0},
      {"id": "b14d", "c": "C6", "R": 467.6, "Z": -365.0}, {"id": "b14d", "c": "C6", "R": 467.7, "Z": -370.0}, {"id": "b14d", "c": "C6", "R": 466.3, "Z": -381.0}, {"id": "b14d", "c": "C6", "R": 466.0, "Z": -392.0}, {"id": "b14d", "c": "C6", "R": 466.9, "Z": -404.0}, {"id": "b14d", "c": "C6", "R": 467.4, "Z": -416.0}, {"id": "b14d", "c": "C6", "R": 466.9, "Z": -428.0}, {"id": "b14d", "c": "C6", "R": 466.8, "Z": -439.3},
      {"id": "b15u", "c": "C9", "R": 470.8, "Z": -321.3}, {"id": "b15u", "c": "C9", "R": 470.5, "Z": -331.9}, {"id": "b15u", "c": "C9", "R": 470.0, "Z": -348.4}, {"id": "b15u", "c": "C9", "R": 471.0, "Z": -360.9}, {"id": "b15u", "c": "C9", "R": 471.9, "Z": -367.1},
      {"id": "b15d", "c": "C8", "R": 471.9, "Z": -367.1}, {"id": "b15d", "c": "C8", "R": 471.9, "Z": -370.0}, {"id": "b15d", "c": "C8", "R": 470.4, "Z": -381.0}, {"id": "b15d", "c": "C8", "R": 470.0, "Z": -392.0}, {"id": "b15d", "c": "C8", "R": 470.9, "Z": -404.0}, {"id": "b15d", "c": "C8", "R": 471.5, "Z": -416.0}, {"id": "b15d", "c": "C8", "R": 471.0, "Z": -428.0}, {"id": "b15d", "c": "C8", "R": 470.6, "Z": -439.9}
    ],
    "b_rings": [{"R": 431.4, "Z": -370.0}, {"R": 444.3, "Z": -372.7}],
    "b_pointers": [
      {"R": 430.0, "Z": -364.3, "R2": 435.9, "Z2": -348.0, "deg": 128.2},
      {"R": 443.3, "Z": -368.4, "R2": 435.9, "Z2": -348.0, "deg": 51.8},
      {"R": 437.4, "Z": -371.9, "R2": 452.7, "Z2": -327.7, "deg": 126.8},
      {"R": 450.2, "Z": -372.4, "R2": 460.8, "Z2": -372.4, "deg": 180},
      {"R": 429.5, "Z": -375.9, "R2": 435.4, "Z2": -411.4, "deg": 250.2},
      {"R": 444.0, "Z": -376.5, "R2": 435.9, "Z2": -411.4, "deg": 296.7}
    ],
    "b_notes": [
      {"t": "(b)", "kind": "tag", "R": 412.5, "Z": -301.3},
      {"t": "Shallow pitch", "kind": "plain", "R": 435.9, "Z": -320.9},
      {"t": "radiation", "kind": "plain", "R": 435.9, "Z": -330.9},
      {"t": "regions", "kind": "plain", "R": 435.9, "Z": -341.1},
      {"t": "X-point", "kind": "plain", "R": 458.5, "Z": -324.6},
      {"t": "Possible", "kind": "edge", "R": 461.3, "Z": -364.3},
      {"t": "Injection", "kind": "edge", "R": 461.3, "Z": -374.2},
      {"t": "config.", "kind": "edge", "R": 461.3, "Z": -384.1},
      {"t": "Possible", "kind": "left", "R": 426.7, "Z": -414.9},
      {"t": "Injection", "kind": "left", "R": 426.7, "Z": -424.8},
      {"t": "config.", "kind": "left", "R": 426.7, "Z": -434.6}
    ]
  },
  "vconcat": [
    {
      "width": 438,
      "height": 455,
      "encoding": {
        "x": {"field": "R", "type": "quantitative",
          "scale": {"domain": [355.6, 534.7], "nice": false, "zero": false},
          "axis": {"values": [400, 450, 500], "title": "R(cm)", "labelFontSize": 25, "labelBaseline": "middle", "labelPadding": 19,
            "titleFontSize": 30, "titleX": 224, "titleY": 56, "titleAlign": "center", "titleBaseline": "middle"}},
        "y": {"field": "Z", "type": "quantitative",
          "scale": {"domain": [-446.6, -294.6], "nice": false, "zero": false},
          "axis": {"values": [-300, -350, -400], "title": "Z(cm)", "labelFontSize": 25, "labelPadding": 7,
            "titleAngle": 0, "titleFontSize": 30, "titleX": -50, "titleY": 215.5, "titleAlign": "center", "titleBaseline": "middle"}}
      },
      "layer": [
        {"data": {"name": "a_box"}, "mark": {"type": "rect", "color": "#e9eddc"},
          "encoding": {"x2": {"field": "R2"}, "y2": {"field": "Z2"}}},
        {"data": {"name": "a_lines"}, "mark": {"type": "line", "interpolate": "catmull-rom", "strokeWidth": 1.6},
          "encoding": {
            "color": {"field": "c", "type": "nominal", "legend": null,
              "scale": {"domain": ["C0", "C1", "C2", "C3", "C4", "C5", "C6", "C7", "C8", "C9"],
                "range": ["#1f77b4", "#ff7f0e", "#2ca02c", "#d62728", "#9467bd", "#8c564b", "#e377c2", "#7f7f7f", "#bcbd22", "#17becf"]}},
            "detail": {"field": "id"},
            "order": {"value": null}}},
        {"data": {"name": "a_flux"},
          "mark": {"type": "point", "shape": "M-1,-0.2L0.2,-0.2L0.2,-0.45L1,0L0.2,0.45L0.2,0.2L-1,0.2Z", "filled": false, "color": "#ff0000", "strokeWidth": 2.5, "size": 3025, "opacity": 1},
          "encoding": {"angle": {"field": "dir", "type": "quantitative", "scale": null}}},
        {"data": {"name": "a_rings"},
          "mark": {"type": "point", "shape": "M-0.8,0C-0.8,-0.552,-0.442,-1,0,-1C0.442,-1,0.8,-0.552,0.8,0C0.8,0.552,0.442,1,0,1C-0.442,1,-0.8,0.552,-0.8,0Z", "filled": false, "color": "#985620", "strokeWidth": 3, "size": 729, "opacity": 1}},
        {"data": {"name": "a_pointers"}, "mark": {"type": "rule", "color": "#985620", "strokeWidth": 2},
          "encoding": {"x2": {"field": "R2"}, "y2": {"field": "Z2"}}},
        {"data": {"name": "a_pointers"},
          "mark": {"type": "point", "shape": "M0,0L-1,-0.5L-1,0.5Z", "filled": true, "color": "#985620", "size": 256, "opacity": 1},
          "encoding": {"angle": {"field": "deg", "type": "quantitative", "scale": null}}},
        {"data": {"name": "a_notes"}, "transform": [{"filter": "datum.kind === 'plain'"}],
          "mark": {"type": "text", "font": "Lato", "fontSize": 24, "color": "black", "align": "center", "baseline": "middle"},
          "encoding": {"text": {"field": "t"}}},
        {"data": {"name": "a_notes"}, "transform": [{"filter": "datum.kind === 'tag'"}],
          "mark": {"type": "text", "font": "Lato", "fontSize": 21, "color": "black", "align": "left", "baseline": "middle"},
          "encoding": {"text": {"field": "t"}}},
        {"data": {"name": "a_notes"}, "transform": [{"filter": "datum.kind === 'red'"}],
          "mark": {"type": "text", "font": "Lato", "fontSize": 21, "color": "#ff0000", "align": "left", "baseline": "middle"},
          "encoding": {"text": {"field": "t"}}},
        {"data": {"name": "a_notes"}, "transform": [{"filter": "datum.kind === 'ipi'"}],
          "mark": {"type": "text", "font": "Liberation Sans", "fontSize": 32, "fontWeight": "bold", "fontStyle": "italic", "color": "#985620", "align": "center", "baseline": "middle"},
          "encoding": {"text": {"field": "t"}}},
        {"data": {"name": "a_notes"}, "transform": [{"filter": "datum.kind === 'ipi2'"}],
          "mark": {"type": "text", "font": "Liberation Sans", "fontSize": 27, "fontWeight": "bold", "fontStyle": "italic", "color": "#985620", "align": "center", "baseline": "middle"},
          "encoding": {"text": {"field": "t"}}},
        {"data": {"name": "a_notes"}, "transform": [{"filter": "datum.kind === 'teal'"}],
          "mark": {"type": "text", "font": "Lato", "fontSize": 21, "color": "#2e6c7c", "align": "center", "baseline": "middle"},
          "encoding": {"text": {"field": "t"}}}
      ]
    },
    {
      "width": 440,
      "height": 487,
      "encoding": {
        "x": {"field": "R", "type": "quantitative",
          "scale": {"domain": [411.1, 474.4], "nice": false, "zero": false},
          "axis": {"values": [420, 440, 460], "title": "R(cm)", "labelFontSize": 27, "labelBaseline": "middle", "labelPadding": 20.5,
            "titleFontSize": 33, "titleX": 232, "titleY": 68.5, "titleAlign": "center", "titleBaseline": "middle"}},
        "y": {"field": "Z", "type": "quantitative",
          "scale": {"domain": [-446.2, -294.8], "nice": false, "zero": false},
          "axis": {"values": [-300, -350, -400], "title": "Z(cm)", "labelFontSize": 25, "labelPadding": 4,
            "titleAngle": 0, "titleFontSize": 27.5, "titleX": -38, "titleY": 231, "titleAlign": "center", "titleBaseline": "middle"}}
      },
      "layer": [
        {"data": {"name": "b_lines"}, "mark": {"type": "line", "interpolate": "catmull-rom", "strokeWidth": 1.8},
          "encoding": {
            "color": {"field": "c", "type": "nominal", "legend": null,
              "scale": {"domain": ["C0", "C1", "C2", "C3", "C4", "C5", "C6", "C7", "C8", "C9"],
                "range": ["#1f77b4", "#ff7f0e", "#2ca02c", "#d62728", "#9467bd", "#8c564b", "#e377c2", "#7f7f7f", "#bcbd22", "#17becf"]}},
            "detail": {"field": "id"},
            "order": {"value": null}}},
        {"data": {"name": "b_rings"},
          "mark": {"type": "point", "shape": "M-1,0C-1,-0.21,-0.552,-0.38,0,-0.38C0.552,-0.38,1,-0.21,1,0C1,0.21,0.552,0.38,0,0.38C-0.552,0.38,-1,0.21,-1,0Z", "filled": false, "color": "#985620", "strokeWidth": 3.5, "size": 5929, "opacity": 1}},
        {"data": {"name": "b_pointers"}, "mark": {"type": "rule", "color": "#985620", "strokeWidth": 2.2},
          "encoding": {"x2": {"field": "R2"}, "y2": {"field": "Z2"}}},
        {"data": {"name": "b_pointers"},
          "mark": {"type": "point", "shape": "M0,0L-1,-0.5L-1,0.5Z", "filled": true, "color": "#985620", "size": 256, "opacity": 1},
          "encoding": {"angle": {"field": "deg", "type": "quantitative", "scale": null}}},
        {"data": {"name": "b_notes"}, "transform": [{"filter": "datum.kind === 'plain'"}],
          "mark": {"type": "text", "font": "Lato", "fontSize": 25, "color": "black", "align": "center", "baseline": "middle"},
          "encoding": {"text": {"field": "t"}}},
        {"data": {"name": "b_notes"}, "transform": [{"filter": "datum.kind === 'left'"}],
          "mark": {"type": "text", "font": "Lato", "fontSize": 25, "color": "black", "align": "left", "baseline": "middle"},
          "encoding": {"text": {"field": "t"}}},
        {"data": {"name": "b_notes"}, "transform": [{"filter": "datum.kind === 'edge'"}],
          "mark": {"type": "text", "font": "Lato", "fontSize": 25, "color": "black", "align": "left", "baseline": "middle", "clip": true},
          "encoding": {"text": {"field": "t"}}},
        {"data": {"name": "b_notes"}, "transform": [{"filter": "datum.kind === 'tag'"}],
          "mark": {"type": "text", "font": "Lato", "fontSize": 21, "color": "black", "align": "left", "baseline": "middle"},
          "encoding": {"text": {"field": "t"}}}
      ]
    }
  ]
}
